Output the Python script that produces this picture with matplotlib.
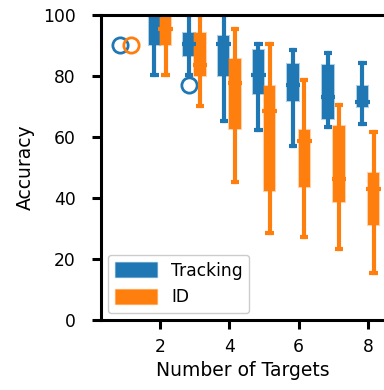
import matplotlib
matplotlib.use('Agg')
import matplotlib.pyplot as plt
from matplotlib.patches import Patch

# number of targets
targets = [2, 3, 4, 5, 6, 7, 8]

# tracking accuracy box stats
trk_whislo = [80.2, 80.2, 65.2, 62.3, 57.0, 63.3, 64.2]
trk_q1 = [90.0, 86.6, 80.0, 74.0, 71.6, 65.9, 69.9]
trk_med = [100.0, 90.5, 90.5, 80.3, 76.9, 73.0, 71.4]
trk_q3 = [100.0, 94.0, 93.1, 88.5, 83.8, 83.4, 76.7]
trk_whishi = [100.0, 100.0, 100.0, 90.4, 88.4, 87.4, 84.1]
trk_fliers = [[], [77.0], [], [], [], [], []]

# id accuracy box stats
id_whislo = [80.2, 70.2, 45.1, 28.4, 27.1, 23.3, 15.3]
id_q1 = [90.0, 80.0, 62.5, 42.1, 43.4, 38.6, 31.2]
id_med = [95.3, 83.5, 77.8, 68.4, 58.6, 46.1, 42.8]
id_q3 = [100.0, 94.0, 85.5, 76.5, 62.3, 63.5, 48.1]
id_whishi = [100.0, 100.0, 95.3, 90.4, 78.6, 70.4, 61.5]
id_fliers = [[], [], [], [], [], [], []]

# single target: every run gave the same accuracy
single_trk = 90.0
single_id = 90.0

plt.rcParams['font.family'] = 'DejaVu Sans'
plt.rcParams['font.size'] = 12.3

fig = plt.figure(figsize=(3.84, 3.90), dpi=100)
ax = fig.add_axes([0.263, 0.18, 0.737, 0.782])

offset = 0.16


def draw(lo, q1, med, q3, hi, fl, shift, color):
    stats = []
    for i in range(len(targets)):
        stats.append(dict(whislo=lo[i], q1=q1[i], med=med[i], q3=q3[i],
                          whishi=hi[i], fliers=fl[i]))
    pos = [t + shift for t in targets]
    edge = (*matplotlib.colors.to_rgb(color), 0.35)
    parts = ax.bxp(stats, positions=pos, widths=0.33, capwidths=0.24,
                   patch_artist=True, manage_ticks=False,
                   boxprops=dict(facecolor=color, edgecolor=edge, linewidth=1.5),
                   medianprops=dict(color=color, linewidth=3, solid_capstyle='butt'),
                   whiskerprops=dict(color=color, linewidth=3),
                   capprops=dict(color=color, linewidth=3, solid_capstyle='butt'),
                   flierprops=dict(marker='o', markerfacecolor='none', markeredgecolor=color,
                                   markersize=11, markeredgewidth=2))
    # medians stick out a little past the box
    for m in parts['medians']:
        x0, x1 = m.get_xdata()
        m.set_xdata([x0 - 0.045, x1 + 0.045])


draw(trk_whislo, trk_q1, trk_med, trk_q3, trk_whishi, trk_fliers, -offset, '#1f77b4')
draw(id_whislo, id_q1, id_med, id_q3, id_whishi, id_fliers, offset, '#ff7f0e')

ax.plot([1 - offset], [single_trk], 'o', mfc='none', mec='#1f77b4', ms=11, mew=2)
ax.plot([1 + offset], [single_id], 'o', mfc='none', mec='#ff7f0e', ms=11, mew=2)

ax.set_xlim(0.3, 8.46)
ax.set_ylim(0, 100)
ax.set_xticks([2, 4, 6, 8])
ax.set_yticks([0, 20, 40, 60, 80, 100])
ax.set_xlabel('Number of Targets', fontsize=13.5, labelpad=4)
ax.set_ylabel('Accuracy', fontsize=13.5, labelpad=6)

ax.spines['right'].set_visible(False)
for s in ['left', 'bottom', 'top']:
    ax.spines[s].set_linewidth(2.2)
ax.tick_params(width=2.2, length=6.5)
ax.tick_params(axis='y', pad=11.5)
ax.tick_params(axis='x', pad=6.5)

handles = [Patch(facecolor='#1f77b4', edgecolor=(0.12, 0.47, 0.71, 0.35), label='Tracking'),
           Patch(facecolor='#ff7f0e', edgecolor=(1.0, 0.5, 0.05, 0.35), label='ID')]
ax.legend(handles=handles, loc='lower left', handlelength=2.5, handleheight=1.0,
          borderaxespad=0.4, framealpha=1, edgecolor='#cccccc', fontsize=12.3)

fig.savefig('out.png', dpi=100)
